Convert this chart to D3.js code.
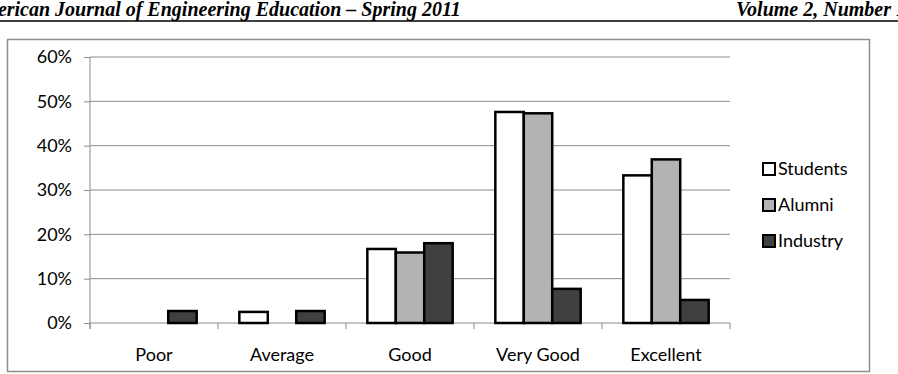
<!DOCTYPE html>
<html>
<head>
<meta charset="utf-8">
<script src="https://cdn.jsdelivr.net/npm/d3@7"></script>
<style>
  body { margin: 0; background: #fff; }
  svg { display: block; }
</style>
</head>
<body>
<svg id="drawing_region"></svg>
<script>
// chart data
const categories = ['Poor', 'Average', 'Good', 'Very Good', 'Excellent'];
const series = ['Students', 'Alumni', 'Industry'];
const students = [0, 0.025, 0.167, 0.476, 0.333];
const alumni = [0, 0, 0.159, 0.473, 0.369];
const industry = [0.027, 0.027, 0.18, 0.077, 0.052];
const yticks = [0, 0.1, 0.2, 0.3, 0.4, 0.5, 0.6];

const values = { Students: students, Alumni: alumni, Industry: industry };
const colors = { Students: '#ffffff', Alumni: '#b3b3b3', Industry: '#404040' };

const width = 898, height = 374;
const margin = { top: 57, left: 90, right: 168, bottom: 51 };
const font = 'Lato, "Open Sans", sans-serif';

const svg = d3.select('#drawing_region')
    .attr('width', width)
    .attr('height', height);

// page header (running head, cut off at both page edges)
svg.append('text')
    .attr('x', -31)
    .attr('y', 16)
    .attr('font-family', '"Liberation Serif", "Times New Roman", serif')
    .attr('font-weight', 'bold')
    .attr('font-style', 'italic')
    .attr('font-size', 20)
    .text('American Journal of Engineering Education – Spring 2011');

svg.append('text')
    .attr('x', 906)
    .attr('y', 16)
    .attr('text-anchor', 'end')
    .attr('font-family', '"Liberation Serif", "Times New Roman", serif')
    .attr('font-weight', 'bold')
    .attr('font-style', 'italic')
    .attr('font-size', 20)
    .text('Volume 2, Number 1');

svg.append('line')
    .attr('x1', 0).attr('x2', width)
    .attr('y1', 21).attr('y2', 21)
    .attr('stroke', '#000')
    .attr('stroke-width', 1.5);

// chart frame
svg.append('rect')
    .attr('x', 7.5).attr('y', 39.5)
    .attr('width', 862).attr('height', 332)
    .attr('fill', 'none')
    .attr('stroke', '#8e8e8e')
    .attr('stroke-width', 1.5);

const inner_width = width - margin.left - margin.right;
const inner_height = height - margin.top - margin.bottom;

const chart = svg.append('g')
    .attr('transform', `translate(${margin.left}, ${margin.top})`);

const xscale = d3.scaleBand()
    .domain(categories)
    .range([0, inner_width])
    .padding(0);

const xinner = d3.scaleBand()
    .domain(series)
    .range([0, xscale.bandwidth()])
    .paddingInner(0)
    .paddingOuter(0.75);

const yscale = d3.scaleLinear()
    .domain([0, 0.6])
    .range([inner_height, 0]);

// gridlines
chart.append('g')
    .selectAll('line')
    .data(yticks.slice(1))
    .join('line')
    .attr('x1', 0).attr('x2', inner_width)
    .attr('y1', d => yscale(d)).attr('y2', d => yscale(d))
    .attr('stroke', '#8c8c8c')
    .attr('stroke-width', 1);

// y axis
const yaxis = d3.axisLeft(yscale)
    .tickValues(yticks)
    .tickFormat(d3.format('.0%'))
    .tickSize(6)
    .tickSizeOuter(0)
    .tickPadding(12);

const yaxis_group = chart.append('g').call(yaxis);
yaxis_group.select('.domain').attr('stroke', '#8c8c8c').attr('d', `M0,0V${inner_height + 6}`);
yaxis_group.selectAll('.tick line').attr('stroke', '#8c8c8c');
yaxis_group.selectAll('.tick text')
    .attr('font-family', font)
    .attr('font-size', 18)
    .attr('fill', '#000');

// x axis
const xaxis_group = chart.append('g')
    .attr('transform', `translate(0, ${inner_height})`);

xaxis_group.append('line')
    .attr('x1', 0).attr('x2', inner_width)
    .attr('stroke', '#8c8c8c');

xaxis_group.selectAll('.cat-tick')
    .data(categories.concat(['end']))
    .join('line')
    .attr('class', 'cat-tick')
    .attr('x1', (d, i) => i * xscale.step())
    .attr('x2', (d, i) => i * xscale.step())
    .attr('y1', 0).attr('y2', 6)
    .attr('stroke', '#8c8c8c');

xaxis_group.selectAll('.cat-label')
    .data(categories)
    .join('text')
    .attr('class', 'cat-label')
    .attr('x', d => xscale(d) + xscale.bandwidth() / 2)
    .attr('y', 38)
    .attr('text-anchor', 'middle')
    .attr('font-family', font)
    .attr('font-size', 18)
    .text(d => d);

// bars
const groups = chart.append('g')
    .selectAll('g')
    .data(categories)
    .join('g')
    .attr('transform', d => `translate(${xscale(d)}, 0)`);

groups.selectAll('rect')
    .data((c, ci) => series.map(s => ({ s: s, v: values[s][ci] })).filter(d => d.v > 0))
    .join('rect')
    .attr('x', d => xinner(d.s))
    .attr('y', d => yscale(d.v))
    .attr('width', xinner.bandwidth())
    .attr('height', d => inner_height - yscale(d.v))
    .attr('fill', d => colors[d.s])
    .attr('stroke', '#000')
    .attr('stroke-width', 2.5);

// legend
const legend = svg.append('g')
    .attr('transform', 'translate(763, 169)');

const items = legend.selectAll('g')
    .data(series)
    .join('g')
    .attr('transform', (d, i) => `translate(0, ${i * 36})`);

items.append('rect')
    .attr('x', 0).attr('y', -6)
    .attr('width', 12).attr('height', 12)
    .attr('fill', d => colors[d])
    .attr('stroke', '#000')
    .attr('stroke-width', 2);

items.append('text')
    .attr('x', 15)
    .attr('y', 0)
    .attr('dy', '0.35em')
    .attr('font-family', font)
    .attr('font-size', 18)
    .text(d => d);
</script>
</body>
</html>
